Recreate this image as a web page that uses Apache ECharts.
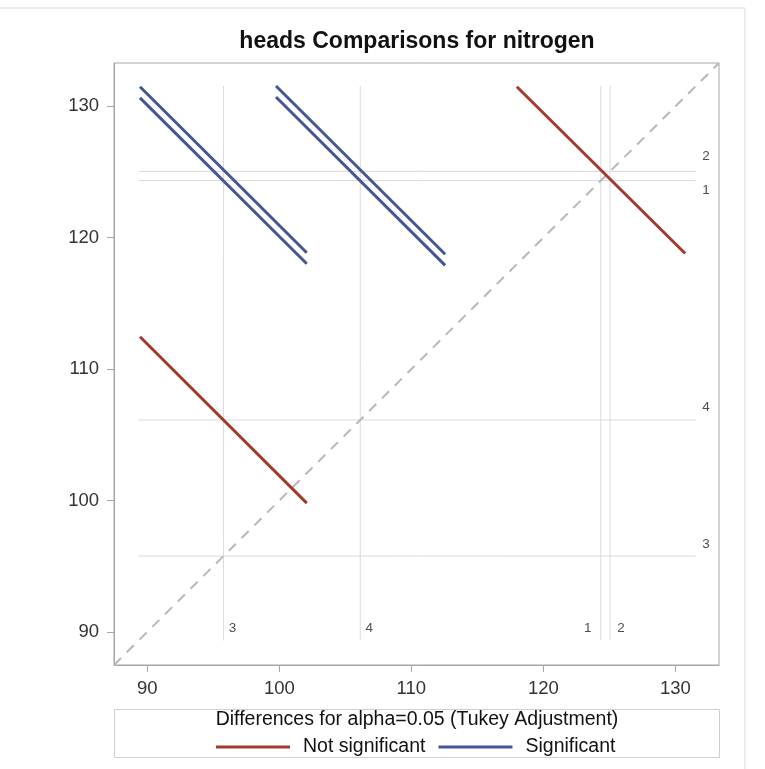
<!DOCTYPE html>
<html>
<head>
<meta charset="utf-8">
<script src="https://cdn.jsdelivr.net/npm/echarts@6/dist/echarts.min.js"></script>
<style>html,body{margin:0;padding:0;background:#fff;}#c{width:765px;height:769px;}</style>
</head>
<body>
<div id="c"></div>
<script>
// ---- data ----
const levels = ['1', '2', '3', '4'];
const lsMeans = [124.35, 125.05, 95.77, 106.13];
const tickValues = [90, 100, 110, 120, 130];
const axisMin = 87.48;
const axisMax = 133.3;
const refLo = 89.35;
const refHi = 131.55;
// diffogram segments (pair, x1, y1, x2, y2, significant)
const segPairs = ['3-2', '3-1', '4-2', '4-1', '1-2', '3-4'];
const segX1 = [89.45, 89.45, 99.75, 99.75, 117.99, 89.45];
const segY1 = [131.49, 130.65, 131.55, 130.71, 131.49, 112.46];
const segX2 = [102.08, 102.08, 112.56, 112.56, 130.74, 102.08];
const segY2 = [118.86, 118.02, 118.74, 117.90, 118.80, 99.80];
const segSig = [true, true, true, true, false, false];

const RED = '#A23A2E', BLUE = '#445694';
const FONT = 'Liberation Sans, Arial, sans-serif';

const series = [];
// reference lines
levels.forEach((lv, i) => {
  const m = lsMeans[i];
  series.push({ type: 'line', silent: true, symbol: 'none', z: 1,
    lineStyle: { color: '#dadada', width: 1 }, data: [[m, refLo], [m, refHi]] });
  series.push({ type: 'line', silent: true, symbol: 'none', z: 1,
    lineStyle: { color: '#dadada', width: 1 }, data: [[refLo, m], [refHi, m]] });
});
// diagonal
series.push({ type: 'line', silent: true, symbol: 'none', z: 2,
  lineStyle: { color: '#b8b8b8', width: 2, type: [10, 8] }, data: [[axisMin, axisMin], [axisMax, axisMax]] });
// segments
segPairs.forEach((p, i) => {
  series.push({ name: segSig[i] ? 'Significant' : 'Not significant', type: 'line', symbol: 'none', z: 5,
    color: segSig[i] ? BLUE : RED,
    lineStyle: { color: segSig[i] ? BLUE : RED, width: 3 },
    data: [[segX1[i], segY1[i]], [segX2[i], segY2[i]]] });
});
// ref line labels
const vOff = { '1': [-13, -12], '2': [11, -12], '3': [9, -12], '4': [9, -12] };
const hOff = { '1': [10, 10], '2': [10, -15], '3': [10, -12], '4': [10, -13] };
levels.forEach((lv, i) => {
  series.push({ type: 'scatter', silent: true, symbolSize: 0, z: 6,
    data: [[lsMeans[i], refLo]],
    label: { show: true, formatter: lv, position: 'inside', offset: vOff[lv],
      color: '#222', fontSize: 13.5, fontFamily: FONT } });
  series.push({ type: 'scatter', silent: true, symbolSize: 0, z: 6,
    data: [[refHi, lsMeans[i]]],
    label: { show: true, formatter: lv, position: 'inside', offset: hOff[lv],
      color: '#222', fontSize: 13.5, fontFamily: FONT } });
});

const axisCommon = {
  type: 'value', min: axisMin, max: axisMax,
  splitLine: { show: false },
  axisLine: { show: true, lineStyle: { color: '#a6a6a6', width: 1 } },
  axisTick: { show: true, length: 7, customValues: tickValues, lineStyle: { color: '#a6a6a6' } },
  axisLabel: { customValues: tickValues, color: '#333', fontSize: 18.5, fontFamily: FONT }
};

const chart = echarts.init(document.getElementById('c'), null, { renderer: 'canvas' });
chart.setOption({
  animation: false,
  backgroundColor: '#fff',
  title: { text: 'heads Comparisons for nitrogen', left: 412, top: 25, textAlign: 'center',
    textStyle: { fontSize: 23, fontWeight: 'bold', color: '#111', fontFamily: FONT } },
  grid: { left: 114, top: 63, width: 605, height: 602, show: true, borderColor: '#a6a6a6', borderWidth: 1 },
  xAxis: Object.assign({}, axisCommon, { axisLabel: Object.assign({}, axisCommon.axisLabel, { margin: 14 }) }),
  yAxis: Object.assign({}, axisCommon, { axisLabel: Object.assign({}, axisCommon.axisLabel, { margin: 15 }) }),
  legend: {
    data: ['Not significant', 'Significant'],
    left: 211, top: 732, icon: 'rect', itemWidth: 74, itemHeight: 3, itemGap: 13,
    selectedMode: false,
    textStyle: { fontSize: 19.5, color: '#111', fontFamily: FONT, padding: [0, 0, 0, 8] }
  },
  graphic: [
    { type: 'rect', shape: { x: -1, y: 8, width: 746, height: 770 }, style: { fill: 'none', stroke: '#d9d9d9', lineWidth: 1 }, silent: true, z: -10 },
    { type: 'rect', shape: { x: 114.5, y: 709.5, width: 605, height: 48 }, style: { fill: 'none', stroke: '#cfcfcf', lineWidth: 1 }, silent: true },
    { type: 'text', x: 417, y: 720, style: { text: 'Differences for alpha=0.05 (Tukey Adjustment)', fontSize: 19.5, fontFamily: FONT, fill: '#111', align: 'center', verticalAlign: 'middle' }, silent: true }
  ],
  series: series
});
</script>
</body>
</html>
